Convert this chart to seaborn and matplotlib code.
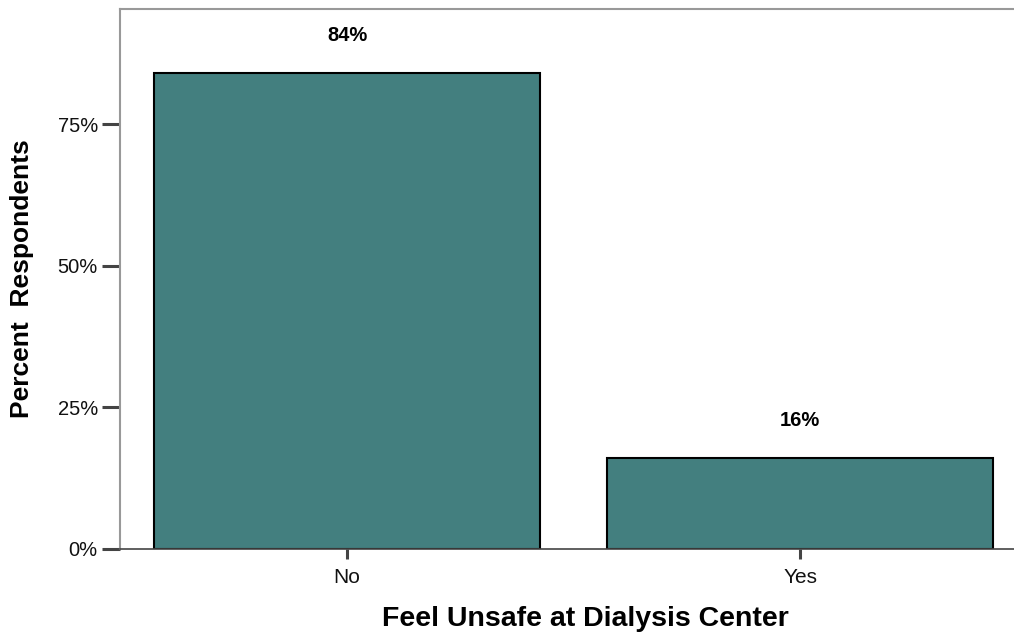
import matplotlib
matplotlib.use("Agg")
import matplotlib.pyplot as plt
import seaborn as sns
import pandas as pd

# Survey responses: share of respondents by answer
answers = ["No", "Yes"]
percents = [84, 16]
y_ticks = [0, 25, 50, 75]
y_tick_labels = ["0%", "25%", "50%", "75%"]

df = pd.DataFrame({"answer": answers, "percent": percents})

sns.set_theme(style="white")
plt.rcParams["font.family"] = ["Liberation Sans", "DejaVu Sans"]

fig = plt.figure(figsize=(10.14, 6.37), dpi=100)
ax = fig.add_axes([120 / 1014, 1 - 549 / 637, 1 - 120 / 1014, (549 - 9) / 637])

sns.barplot(data=df, x="answer", y="percent", order=answers, color="#437F7F",
            saturation=1, width=0.852, edgecolor="black", linewidth=1.5, ax=ax)

ax.set_xlim(-0.501, 1.472)
ax.set_ylim(0, 95.3)
ax.set_yticks(y_ticks)
ax.set_yticklabels(y_tick_labels)

for i, v in enumerate(percents):
    ax.annotate(f"{v}%", xy=(i, v), xytext=(0, 27), textcoords="offset points",
                ha="center", va="center", fontsize=14.5, fontweight="bold",
                color="black")

ax.tick_params(axis="y", which="major", direction="out", length=13, width=2.2,
               color="#444444", left=True, labelsize=14.5, pad=3, labelcolor="#111111")
ax.tick_params(axis="x", which="major", direction="out", length=7, width=2.2,
               color="#444444", bottom=True, labelsize=15, pad=7, labelcolor="#111111")

for side in ["left", "top"]:
    ax.spines[side].set_color("#999999")
    ax.spines[side].set_linewidth(1.5)
ax.spines["bottom"].set_color("#444444")
ax.spines["bottom"].set_linewidth(1.2)
ax.spines["right"].set_visible(False)

ax.set_xlabel("Feel Unsafe at Dialysis Center", fontsize=20.5, fontweight="bold",
              color="black")
ax.set_ylabel("Percent  Respondents", fontsize=19, fontweight="bold", color="black")
ax.xaxis.set_label_coords(0.521, -0.13)
ax.yaxis.set_label_coords(-0.11, 0.5)
ax.xaxis.label.set_va("center")
ax.yaxis.label.set_va("center")

fig.savefig("out.png", dpi=100)
